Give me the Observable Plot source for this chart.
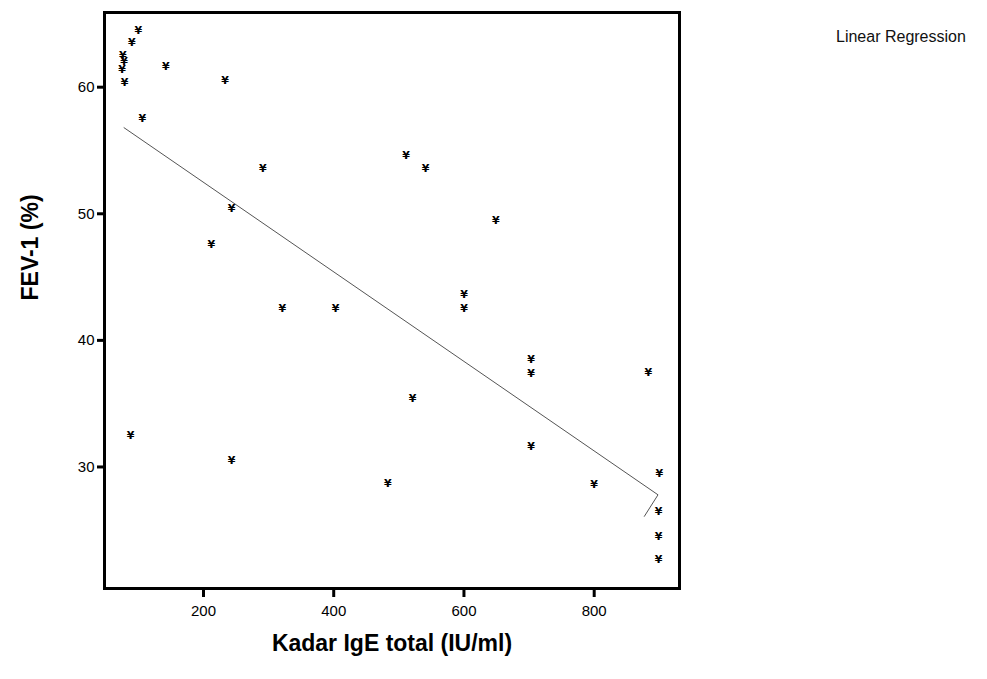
<!DOCTYPE html>
<html>
<head>
<meta charset="utf-8">
<script src="https://cdn.jsdelivr.net/npm/d3@7"></script>
<script src="https://cdn.jsdelivr.net/npm/@observablehq/plot@0.6"></script>
<style>
  body { margin: 0; background: #fff; font-family: "Liberation Sans", Arial, sans-serif; }
  #wrap { position: relative; width: 987px; height: 679px; }
  #legend { position: absolute; left: 836px; top: 28px; font-size: 16px; color: #111; white-space: nowrap; }
</style>
</head>
<body>
<div id="wrap"><div id="legend">Linear Regression</div></div>
<script>
// Kadar IgE total (IU/ml) and FEV-1 (%) per patient
const ige = [100, 90, 76, 78, 75, 79, 142, 233, 106, 291, 243, 212, 321, 403, 88, 243,
             511, 541, 649, 600, 600, 703, 703, 521, 703, 483, 883, 800, 900, 899, 899, 899];
const fev = [64.5, 63.5, 62.5, 62.0, 61.4, 60.4, 61.6, 60.5, 57.5, 53.6, 50.4, 47.6, 42.5, 42.5, 32.5, 30.5,
             54.6, 53.6, 49.5, 43.6, 42.5, 38.5, 37.4, 35.4, 31.6, 28.7, 37.5, 28.6, 29.5, 26.5, 24.5, 22.7];
// Regression line as drawn (incl. the small hook at its end)
const fitIge = [78, 898, 877];
const fitFev = [56.8, 27.8, 26.1];
const xTicks = [200, 400, 600, 800];
const yTicks = [30, 40, 50, 60];
const xTitle = "Kadar IgE total (IU/ml)";
const yTitle = "FEV-1 (%)";

const points = ige.map((v, i) => ({ige: v, fev: fev[i]}));
const fit = fitIge.map((v, i) => ({ige: v, fev: fitFev[i]}));

const chart = Plot.plot({
  width: 987,
  height: 679,
  marginLeft: 104,
  marginRight: 308,
  marginTop: 12,
  marginBottom: 91,
  style: { fontFamily: "'Liberation Sans', Arial, sans-serif", background: "white", color: "black" },
  x: { domain: [48, 931] },
  y: { domain: [20.4, 65.9] },
  marks: [
    Plot.line(fit, { x: "ige", y: "fev", stroke: "#555", strokeWidth: 1 }),
    Plot.text(points, { x: "ige", y: "fev", text: () => "¥", fontSize: 11, fontWeight: "bold", fill: "black", fontFamily: "DejaVu Sans" }),
    Plot.frame({ stroke: "black", strokeWidth: 3 }),
    Plot.axisX(xTicks, { tickSize: 9, strokeWidth: 3, tickPadding: 8, fontSize: 15, label: null }),
    Plot.axisY(yTicks, { tickSize: 7, strokeWidth: 3, tickPadding: 3, fontSize: 15, label: null }),
    Plot.text([xTitle], { frameAnchor: "bottom", dy: 62, fontSize: 23, fontWeight: "bold", text: d => d }),
    Plot.text([yTitle], { frameAnchor: "left", dx: -74, rotate: -90, fontSize: 23, fontWeight: "bold", text: d => d })
  ]
});
document.getElementById("wrap").prepend(chart);
</script>
</body>
</html>
